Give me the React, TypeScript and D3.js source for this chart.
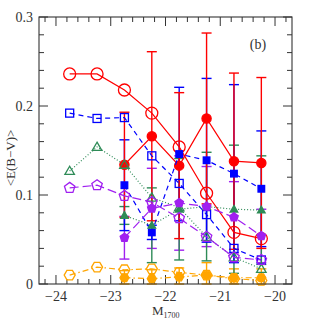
import React from "react";
import * as d3 from "d3";

const binsOpen = [-23.75, -23.25, -22.75, -22.25, -21.75, -21.25, -20.75, -20.25];
const binsFilled = [-22.75, -22.25, -21.75, -21.25, -20.75, -20.25];

const redOpen = [0.236, 0.236, 0.218, 0.192, 0.154, 0.102, 0.058, 0.051];
const redFilled = [0.134, 0.166, 0.133, 0.186, 0.138, 0.136];
const redErr = [0.059, 0.095, 0.082, 0.096, 0.099, 0.096];

const blueOpen = [0.192, 0.186, 0.187, 0.144, 0.113, 0.078, 0.04, 0.027];
const blueFilled = [0.111, 0.058, 0.146, 0.139, 0.124, 0.107];
const blueErr = [0.051, 0.008, 0.075, 0.092, 0.1, 0.065];

const greenOpen = [0.127, 0.154, 0.134, 0.097, 0.086, 0.053, 0.03, 0.017];
const greenFilled = [0.077, 0.066, 0.084, 0.087, 0.084, 0.083];
const greenErr = [0.01, 0.042, 0.057, 0.061, 0.072, 0.061];

const purpleOpen = [0.108, 0.111, 0.099, 0.092, 0.074, 0.053, 0.03, 0.027];
const purpleFilled = [0.052, 0.085, 0.091, 0.087, 0.075, 0.054];
const purpleErr = [0.024, 0.045, 0.053, 0.045, 0.04, 0.03];

const orangeOpen = [0.01, 0.019, 0.016, 0.017, 0.013, 0.01, 0.006, 0.004];
const orangeFilled = [0.007, 0.006, 0.008, 0.01, 0.007, 0.007];
const orangeErr = [0.008, 0.01, 0.01, 0.014, 0.01, 0.01];

const xTicks = [-24, -23, -22, -21, -20];
const yTicks = [0, 0.1, 0.2, 0.3];
const yTickLabels = ["0", "0.1", "0.2", "0.3"];

const X0 = 39, X1 = 292, Y0 = 284, Y1 = 17;
const x = d3.scaleLinear().domain([-24.31, -19.69]).range([X0, X1]);
const y = d3.scaleLinear().domain([0, 0.3]).range([Y0, Y1]);

type Shape = "circle" | "square" | "triangle" | "pentagon" | "hexagon";

function polyPath(cx: number, cy: number, r: number, n: number, rot: number) {
  const pts: [number, number][] = [];
  for (let i = 0; i < n; i++) {
    const a = rot + (i * 2 * Math.PI) / n;
    pts.push([cx + r * Math.cos(a), cy + r * Math.sin(a)]);
  }
  return "M" + pts.map((p) => p[0].toFixed(2) + "," + p[1].toFixed(2)).join("L") + "Z";
}

function Marker({ shape, cx, cy, color, filled, size }: { shape: Shape; cx: number; cy: number; color: string; filled: boolean; size: number }) {
  const fill = filled ? color : "none";
  const sw = 1.3;
  if (shape === "circle") return <circle cx={cx} cy={cy} r={size} fill={fill} stroke={color} strokeWidth={sw} />;
  if (shape === "square")
    return <rect x={cx - size} y={cy - size} width={size * 2} height={size * 2} fill={fill} stroke={color} strokeWidth={sw} />;
  if (shape === "triangle") return <path d={polyPath(cx, cy + size * 0.15, size * 1.1, 3, -Math.PI / 2)} fill={fill} stroke={color} strokeWidth={sw} />;
  if (shape === "pentagon") return <path d={polyPath(cx, cy, size, 5, -Math.PI / 2)} fill={fill} stroke={color} strokeWidth={sw} />;
  return <path d={polyPath(cx, cy, size, 6, 0)} fill={fill} stroke={color} strokeWidth={sw} />;
}

const line = d3
  .line<[number, number]>()
  .x((d) => x(d[0]))
  .y((d) => y(d[1]));

function ErrBars({ xs, ys, errs, color }: { xs: number[]; ys: number[]; errs: number[]; color: string }) {
  return (
    <g stroke={color} strokeWidth={1.4}>
      {xs.map((v, i) => {
        const cx = x(v);
        const yt = y(ys[i] + errs[i]);
        const yb = y(Math.max(0, ys[i] - errs[i]));
        return (
          <g key={"e" + i}>
            <line x1={cx} x2={cx} y1={yt} y2={yb} />
            <line x1={cx - 5} x2={cx + 5} y1={yt} y2={yt} />
            <line x1={cx - 5} x2={cx + 5} y1={yb} y2={yb} />
          </g>
        );
      })}
    </g>
  );
}

function Series({ xs, ys, color, dash, shape, filled, size }: { xs: number[]; ys: number[]; color: string; dash: string; shape: Shape; filled: boolean; size: number }) {
  const pts = xs.map((v, i) => [v, ys[i]] as [number, number]);
  return (
    <g>
      <path d={line(pts) || ""} fill="none" stroke={color} strokeWidth={1.2} strokeDasharray={dash} />
      {pts.map((p, i) => (
        <Marker key={i} shape={shape} cx={x(p[0])} cy={y(p[1])} color={color} filled={filled} size={size} />
      ))}
    </g>
  );
}

const RED = "#ff0000";
const BLUE = "#0000ff";
const GREEN = "#2e8b57";
const PURPLE = "#a020f0";
const ORANGE = "#ffa500";

export default function App() {
  const xMinor = d3.range(-24.2, -19.69, 0.2).filter((v) => Math.abs(v - Math.round(v)) > 0.01);
  const yMinor = d3.range(0.02, 0.3, 0.02).filter((v) => Math.abs(v * 10 - Math.round(v * 10)) > 0.01);
  const font = "'Liberation Serif', 'DejaVu Serif', serif";
  const axisColor = "#333";
  return (
    <svg width={319} height={319} style={{ position: "absolute", left: 0, top: 0 }}>
      <rect width={319} height={319} fill="#fff" />
      <g stroke={axisColor} strokeWidth={1}>
        {xTicks.map((t) => (
          <g key={"xt" + t}>
            <line x1={x(t)} x2={x(t)} y1={Y0} y2={Y0 - 9} />
            <line x1={x(t)} x2={x(t)} y1={Y1} y2={Y1 + 9} />
          </g>
        ))}
        {xMinor.map((t, i) => (
          <g key={"xm" + i}>
            <line x1={x(t)} x2={x(t)} y1={Y0} y2={Y0 - 5} />
            <line x1={x(t)} x2={x(t)} y1={Y1} y2={Y1 + 5} />
          </g>
        ))}
        {yTicks.map((t) => (
          <g key={"yt" + t}>
            <line x1={X0} x2={X0 + 9} y1={y(t)} y2={y(t)} />
            <line x1={X1} x2={X1 - 9} y1={y(t)} y2={y(t)} />
          </g>
        ))}
        {yMinor.map((t, i) => (
          <g key={"ym" + i}>
            <line x1={X0} x2={X0 + 5} y1={y(t)} y2={y(t)} />
            <line x1={X1} x2={X1 - 5} y1={y(t)} y2={y(t)} />
          </g>
        ))}
      </g>

      <ErrBars xs={binsFilled} ys={orangeFilled} errs={orangeErr} color={ORANGE} />
      <ErrBars xs={binsFilled} ys={purpleFilled} errs={purpleErr} color={PURPLE} />
      <ErrBars xs={binsFilled} ys={greenFilled} errs={greenErr} color={GREEN} />
      <ErrBars xs={binsFilled} ys={blueFilled} errs={blueErr} color={BLUE} />
      <ErrBars xs={binsFilled} ys={redFilled} errs={redErr} color={RED} />

      <Series xs={binsOpen} ys={redOpen} color={RED} dash="" shape="circle" filled={false} size={6} />
      <Series xs={binsFilled} ys={redFilled} color={RED} dash="" shape="circle" filled={true} size={4.6} />
      <Series xs={binsOpen} ys={blueOpen} color={BLUE} dash="5,4" shape="square" filled={false} size={4} />
      <Series xs={binsFilled} ys={blueFilled} color={BLUE} dash="5,4" shape="square" filled={true} size={3.3} />
      <Series xs={binsOpen} ys={greenOpen} color={GREEN} dash="1,2" shape="triangle" filled={false} size={5} />
      <Series xs={binsFilled} ys={greenFilled} color={GREEN} dash="1,2" shape="triangle" filled={true} size={4} />
      <Series xs={binsOpen} ys={purpleOpen} color={PURPLE} dash="9,4" shape="pentagon" filled={false} size={5.5} />
      <Series xs={binsFilled} ys={purpleFilled} color={PURPLE} dash="9,4" shape="pentagon" filled={true} size={4.5} />
      <Series xs={binsOpen} ys={orangeOpen} color={ORANGE} dash="6,3,1.5,3" shape="hexagon" filled={false} size={5.5} />
      <Series xs={binsFilled} ys={orangeFilled} color={ORANGE} dash="6,3,1.5,3" shape="hexagon" filled={true} size={4.5} />

      <rect x={X0} y={Y1} width={X1 - X0} height={Y0 - Y1} fill="none" stroke={axisColor} strokeWidth={1.1} />

      <g fontFamily={font} fontSize={14} fill="#333">
        {xTicks.map((t) => (
          <text key={"xl" + t} x={x(t)} y={301} textAnchor="middle">
            {"\u2212" + Math.abs(t)}
          </text>
        ))}
        {yTicks.map((t, i) => (
          <text key={"yl" + t} x={33} y={y(t) + 5} textAnchor="end">
            {yTickLabels[i]}
          </text>
        ))}
        <text x={258} y={49} textAnchor="middle" fontSize={14}>(b)</text>
        <text x={152} y={315} fontSize={13}>
          M<tspan fontSize={8} dy={3}>1700</tspan>
        </text>
        <text transform={`translate(15,158) rotate(-90)`} textAnchor="middle" fontSize={13}>
          {"<E(B\u2212V)>"}
        </text>
      </g>
    </svg>
  );
}
